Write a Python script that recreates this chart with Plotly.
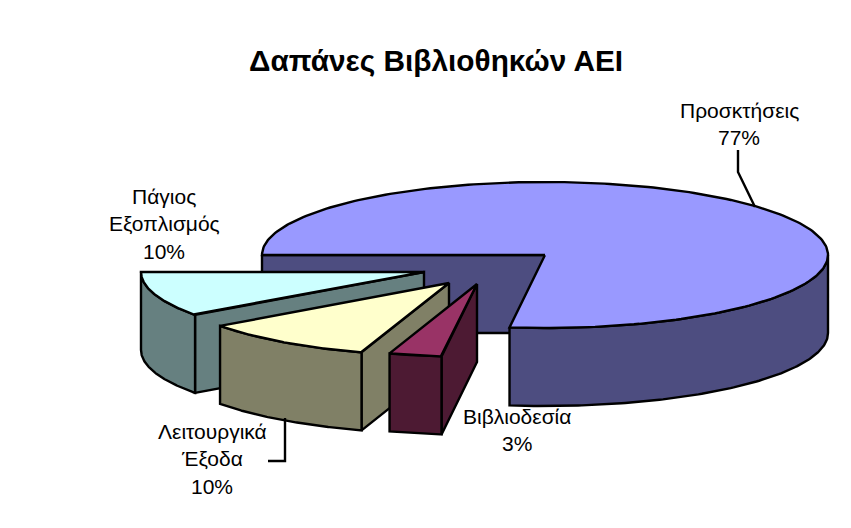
import numpy as np
import plotly.graph_objects as go

# Data
title = "Δαπάνες Βιβλιοθηκών ΑΕΙ"
categories = ["Προσκτήσεις", "Βιβλιοδεσία", "Λειτουργικά Έξοδα", "Πάγιος Εξοπλισμός"]
values = [77, 3, 10, 10]
percent_labels = ["77%", "3%", "10%", "10%"]

# Style and layout of the pseudo-3D projection
top_colors = ["#9999FF", "#993366", "#FFFFCC", "#CCFFFF"]
wall_colors = ["#4D4D80", "#4D1A33", "#808066", "#668080"]
explode = [(0, 0), (-68, 29), (-96, 28), (-121, 17)]
CX, CY, RX, RY, DEPTH = 545, 255, 283, 73, 78
START_ANGLE = 180
LW = 2.4
INK = "#000000"

label_lines = [["Προσκτήσεις"], ["Βιβλιοδεσία"], ["Λειτουργικά", "Έξοδα"], ["Πάγιος", "Εξοπλισμός"]]
label_pos = [(739, 110), (517, 416), (212, 431), (164, 196)]
LINE_STEP = 27.5
leaders = [([738, 738, 755], [150, 172, 207]), ([285, 285, 268], [418, 461, 461])]
draw_order = [0, 3, 2, 1]


def arc(t0, t1, ox, oy, dz=0, n=120):
    t = np.radians(np.linspace(t0, t1, n))
    return CX + ox + RX * np.cos(t), CY + oy - RY * np.sin(t) + dz


def poly(fig, x, y, color):
    x, y = list(x), list(y)
    fig.add_trace(go.Scatter(
        x=x + [x[0]], y=y + [y[0]], mode="lines", fill="toself",
        fillcolor=color, line=dict(color=INK, width=LW), hoverinfo="skip", showlegend=False))


fig = go.Figure()
total = sum(values)
angles = []
a = START_ANGLE
for v in values:
    b = a - 360 * v / total
    angles.append((a, b))
    a = b

for i in draw_order:
    a0, a1 = angles[i]
    ox, oy = explode[i]
    ax, ay = CX + ox, CY + oy
    wall, top = wall_colors[i], top_colors[i]
    # straight cut wall that faces the viewer
    xs, ys = arc(a0, a0, ox, oy, n=1)
    poly(fig, [xs[0], ax, ax, xs[0]], [ys[0], ay, ay + DEPTH, ys[0] + DEPTH], wall)
    # outer rim: only the front half of the ellipse is visible
    r0 = a1 + 360 if i == 0 else a0
    r1 = 360 if i == 0 else a1
    xr, yr = arc(r0, r1, ox, oy)
    xb, yb = arc(r1, r0, ox, oy, DEPTH)
    poly(fig, np.r_[xr, xb], np.r_[yr, yb], wall)
    # top face
    xt, yt = arc(a0, a1, ox, oy, n=240)
    poly(fig, np.r_[ax, xt], np.r_[ay, yt], top)

for lx, ly in leaders:
    fig.add_trace(go.Scatter(x=lx, y=ly, mode="lines", line=dict(color=INK, width=LW),
                             hoverinfo="skip", showlegend=False))

ann = [dict(x=436, y=60, text="<b>%s</b>" % title, showarrow=False, font=dict(size=29.8))]
for lines, pct, (x, y) in zip(label_lines, percent_labels, label_pos):
    for k, s in enumerate(lines + [pct]):
        ann.append(dict(x=x, y=y + k * LINE_STEP, text=s, showarrow=False, font=dict(size=21)))

# the page has an 8 px body margin: the plot covers 8..851 and 8..528 of the window
fig.update_layout(
    width=843, height=520, margin=dict(l=0, r=0, t=0, b=0),
    paper_bgcolor="white", plot_bgcolor="white",
    font=dict(family="Liberation Sans, Arial, sans-serif", color="black"),
    xaxis=dict(range=[8, 851], visible=False, fixedrange=True),
    yaxis=dict(range=[528, 8], visible=False, fixedrange=True),
    annotations=ann, showlegend=False,
)
fig.write_html("out.html", config={"displayModeBar": False})
